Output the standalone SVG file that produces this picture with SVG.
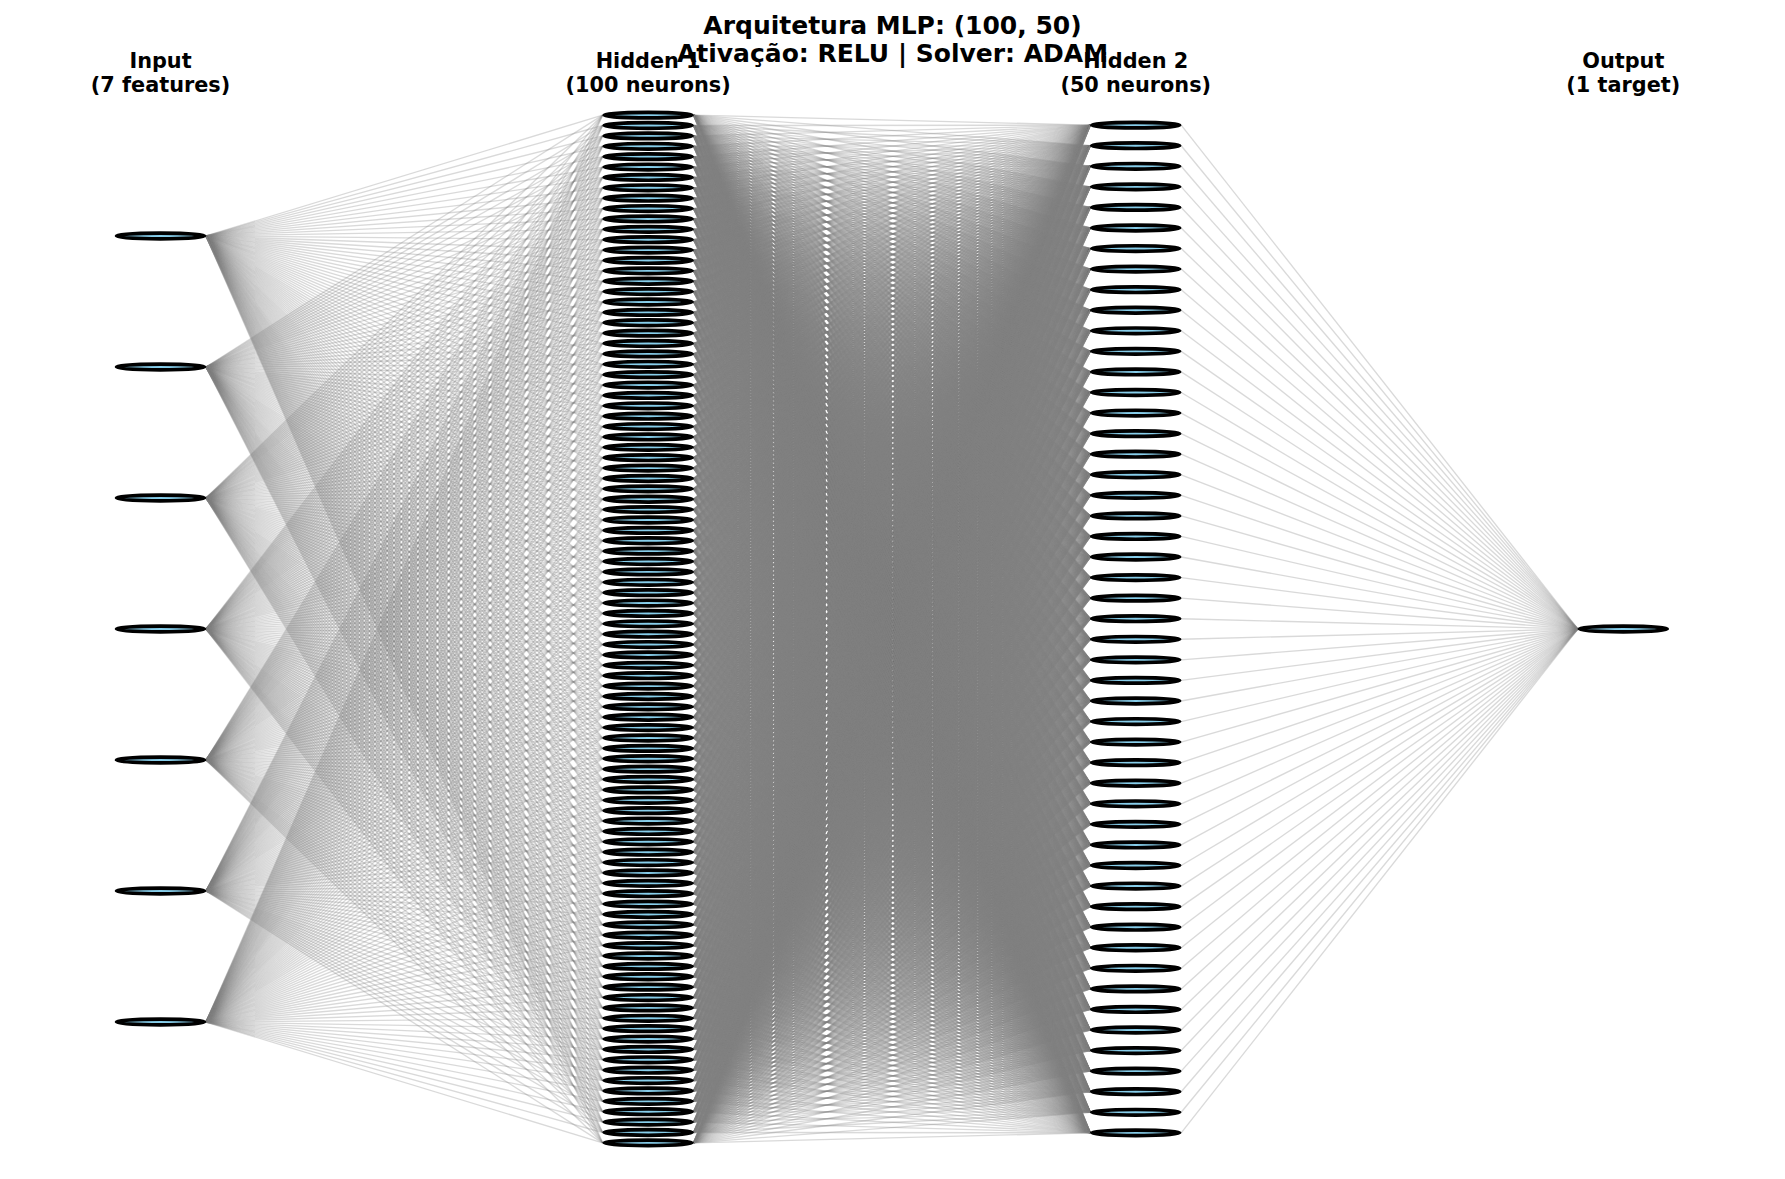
<svg xmlns="http://www.w3.org/2000/svg" xmlns:xlink="http://www.w3.org/1999/xlink" width="1785" height="1179" viewBox="0 0 1785 1179">
<style>
line{stroke:#808080;stroke-opacity:0.3;stroke-width:1.35;vector-effect:non-scaling-stroke}
.t{font-family:"DejaVu Sans","Liberation Sans",sans-serif;font-weight:bold;font-size:25px;text-anchor:middle;fill:#000}
.l{font-family:"DejaVu Sans","Liberation Sans",sans-serif;font-weight:bold;font-size:20.8px;text-anchor:middle;fill:#000}
</style>
<defs>
<ellipse id="n" rx="44" ry="2.8" fill="#87ceeb" stroke="#000" stroke-width="3.7"/>
<g id="f1">
<line x2="396.6" y2="-513.86"/><line x2="396.6" y2="-503.48"/><line x2="396.6" y2="-493.10"/><line x2="396.6" y2="-482.72"/><line x2="396.6" y2="-472.34"/><line x2="396.6" y2="-461.95"/><line x2="396.6" y2="-451.57"/><line x2="396.6" y2="-441.19"/><line x2="396.6" y2="-430.81"/><line x2="396.6" y2="-420.43"/>
<line x2="396.6" y2="-410.05"/><line x2="396.6" y2="-399.67"/><line x2="396.6" y2="-389.29"/><line x2="396.6" y2="-378.91"/><line x2="396.6" y2="-368.53"/><line x2="396.6" y2="-358.14"/><line x2="396.6" y2="-347.76"/><line x2="396.6" y2="-337.38"/><line x2="396.6" y2="-327.00"/><line x2="396.6" y2="-316.62"/>
<line x2="396.6" y2="-306.24"/><line x2="396.6" y2="-295.86"/><line x2="396.6" y2="-285.48"/><line x2="396.6" y2="-275.10"/><line x2="396.6" y2="-264.72"/><line x2="396.6" y2="-254.33"/><line x2="396.6" y2="-243.95"/><line x2="396.6" y2="-233.57"/><line x2="396.6" y2="-223.19"/><line x2="396.6" y2="-212.81"/>
<line x2="396.6" y2="-202.43"/><line x2="396.6" y2="-192.05"/><line x2="396.6" y2="-181.67"/><line x2="396.6" y2="-171.29"/><line x2="396.6" y2="-160.91"/><line x2="396.6" y2="-150.52"/><line x2="396.6" y2="-140.14"/><line x2="396.6" y2="-129.76"/><line x2="396.6" y2="-119.38"/><line x2="396.6" y2="-109.00"/>
<line x2="396.6" y2="-98.62"/><line x2="396.6" y2="-88.24"/><line x2="396.6" y2="-77.86"/><line x2="396.6" y2="-67.48"/><line x2="396.6" y2="-57.10"/><line x2="396.6" y2="-46.71"/><line x2="396.6" y2="-36.33"/><line x2="396.6" y2="-25.95"/><line x2="396.6" y2="-15.57"/><line x2="396.6" y2="-5.19"/>
<line x2="396.6" y2="5.19"/><line x2="396.6" y2="15.57"/><line x2="396.6" y2="25.95"/><line x2="396.6" y2="36.33"/><line x2="396.6" y2="46.71"/><line x2="396.6" y2="57.10"/><line x2="396.6" y2="67.48"/><line x2="396.6" y2="77.86"/><line x2="396.6" y2="88.24"/><line x2="396.6" y2="98.62"/>
<line x2="396.6" y2="109.00"/><line x2="396.6" y2="119.38"/><line x2="396.6" y2="129.76"/><line x2="396.6" y2="140.14"/><line x2="396.6" y2="150.52"/><line x2="396.6" y2="160.91"/><line x2="396.6" y2="171.29"/><line x2="396.6" y2="181.67"/><line x2="396.6" y2="192.05"/><line x2="396.6" y2="202.43"/>
<line x2="396.6" y2="212.81"/><line x2="396.6" y2="223.19"/><line x2="396.6" y2="233.57"/><line x2="396.6" y2="243.95"/><line x2="396.6" y2="254.33"/><line x2="396.6" y2="264.72"/><line x2="396.6" y2="275.10"/><line x2="396.6" y2="285.48"/><line x2="396.6" y2="295.86"/><line x2="396.6" y2="306.24"/>
<line x2="396.6" y2="316.62"/><line x2="396.6" y2="327.00"/><line x2="396.6" y2="337.38"/><line x2="396.6" y2="347.76"/><line x2="396.6" y2="358.14"/><line x2="396.6" y2="368.53"/><line x2="396.6" y2="378.91"/><line x2="396.6" y2="389.29"/><line x2="396.6" y2="399.67"/><line x2="396.6" y2="410.05"/>
<line x2="396.6" y2="420.43"/><line x2="396.6" y2="430.81"/><line x2="396.6" y2="441.19"/><line x2="396.6" y2="451.57"/><line x2="396.6" y2="461.95"/><line x2="396.6" y2="472.34"/><line x2="396.6" y2="482.72"/><line x2="396.6" y2="493.10"/><line x2="396.6" y2="503.48"/><line x2="396.6" y2="513.86"/>
</g>
<g id="f2">
<line x2="396.6" y2="-503.84"/><line x2="396.6" y2="-483.28"/><line x2="396.6" y2="-462.71"/><line x2="396.6" y2="-442.15"/><line x2="396.6" y2="-421.58"/><line x2="396.6" y2="-401.02"/><line x2="396.6" y2="-380.45"/><line x2="396.6" y2="-359.89"/><line x2="396.6" y2="-339.32"/><line x2="396.6" y2="-318.76"/>
<line x2="396.6" y2="-298.19"/><line x2="396.6" y2="-277.63"/><line x2="396.6" y2="-257.06"/><line x2="396.6" y2="-236.50"/><line x2="396.6" y2="-215.93"/><line x2="396.6" y2="-195.37"/><line x2="396.6" y2="-174.80"/><line x2="396.6" y2="-154.24"/><line x2="396.6" y2="-133.67"/><line x2="396.6" y2="-113.11"/>
<line x2="396.6" y2="-92.54"/><line x2="396.6" y2="-71.98"/><line x2="396.6" y2="-51.41"/><line x2="396.6" y2="-30.85"/><line x2="396.6" y2="-10.28"/>
<line x2="396.6" y2="10.28"/><line x2="396.6" y2="30.85"/><line x2="396.6" y2="51.41"/><line x2="396.6" y2="71.98"/><line x2="396.6" y2="92.54"/>
<line x2="396.6" y2="113.11"/><line x2="396.6" y2="133.67"/><line x2="396.6" y2="154.24"/><line x2="396.6" y2="174.80"/><line x2="396.6" y2="195.37"/><line x2="396.6" y2="215.93"/><line x2="396.6" y2="236.50"/><line x2="396.6" y2="257.06"/><line x2="396.6" y2="277.63"/><line x2="396.6" y2="298.19"/>
<line x2="396.6" y2="318.76"/><line x2="396.6" y2="339.32"/><line x2="396.6" y2="359.89"/><line x2="396.6" y2="380.45"/><line x2="396.6" y2="401.02"/><line x2="396.6" y2="421.58"/><line x2="396.6" y2="442.15"/><line x2="396.6" y2="462.71"/><line x2="396.6" y2="483.28"/><line x2="396.6" y2="503.84"/>
</g>
</defs>
<rect width="1785" height="1179" fill="#fff"/>
<g id="connectors">
<g id="conn-input-h1" transform="translate(206,629)">
<use href="#f1" transform="matrix(1,0.99092,0,1,0,-393)"/>
<use href="#f1" transform="matrix(1,0.66062,0,1,0,-262)"/>
<use href="#f1" transform="matrix(1,0.33031,0,1,0,-131)"/>
<use href="#f1"/>
<use href="#f1" transform="matrix(1,-0.33031,0,1,0,131)"/>
<use href="#f1" transform="matrix(1,-0.66062,0,1,0,262)"/>
<use href="#f1" transform="matrix(1,-0.99092,0,1,0,393)"/>
</g>
<g id="conn-h1-h2" transform="translate(1090.2,629)">
<use href="#f1" transform="matrix(-1,1.27041,0,1,0,-503.84)"/>
<use href="#f1" transform="matrix(-1,1.21855,0,1,0,-483.28)"/>
<use href="#f1" transform="matrix(-1,1.16670,0,1,0,-462.71)"/>
<use href="#f1" transform="matrix(-1,1.11485,0,1,0,-442.15)"/>
<use href="#f1" transform="matrix(-1,1.06299,0,1,0,-421.58)"/>
<use href="#f1" transform="matrix(-1,1.01114,0,1,0,-401.02)"/>
<use href="#f1" transform="matrix(-1,0.95929,0,1,0,-380.45)"/>
<use href="#f1" transform="matrix(-1,0.90743,0,1,0,-359.89)"/>
<use href="#f1" transform="matrix(-1,0.85558,0,1,0,-339.32)"/>
<use href="#f1" transform="matrix(-1,0.80373,0,1,0,-318.76)"/>
<use href="#f1" transform="matrix(-1,0.75187,0,1,0,-298.19)"/>
<use href="#f1" transform="matrix(-1,0.70002,0,1,0,-277.63)"/>
<use href="#f1" transform="matrix(-1,0.64817,0,1,0,-257.06)"/>
<use href="#f1" transform="matrix(-1,0.59631,0,1,0,-236.50)"/>
<use href="#f1" transform="matrix(-1,0.54446,0,1,0,-215.93)"/>
<use href="#f1" transform="matrix(-1,0.49261,0,1,0,-195.37)"/>
<use href="#f1" transform="matrix(-1,0.44075,0,1,0,-174.80)"/>
<use href="#f1" transform="matrix(-1,0.38890,0,1,0,-154.24)"/>
<use href="#f1" transform="matrix(-1,0.33705,0,1,0,-133.67)"/>
<use href="#f1" transform="matrix(-1,0.28519,0,1,0,-113.11)"/>
<use href="#f1" transform="matrix(-1,0.23334,0,1,0,-92.54)"/>
<use href="#f1" transform="matrix(-1,0.18149,0,1,0,-71.98)"/>
<use href="#f1" transform="matrix(-1,0.12963,0,1,0,-51.41)"/>
<use href="#f1" transform="matrix(-1,0.07778,0,1,0,-30.85)"/>
<use href="#f1" transform="matrix(-1,0.02593,0,1,0,-10.28)"/>
<use href="#f1" transform="matrix(-1,-0.02593,0,1,0,10.28)"/>
<use href="#f1" transform="matrix(-1,-0.07778,0,1,0,30.85)"/>
<use href="#f1" transform="matrix(-1,-0.12963,0,1,0,51.41)"/>
<use href="#f1" transform="matrix(-1,-0.18149,0,1,0,71.98)"/>
<use href="#f1" transform="matrix(-1,-0.23334,0,1,0,92.54)"/>
<use href="#f1" transform="matrix(-1,-0.28519,0,1,0,113.11)"/>
<use href="#f1" transform="matrix(-1,-0.33705,0,1,0,133.67)"/>
<use href="#f1" transform="matrix(-1,-0.38890,0,1,0,154.24)"/>
<use href="#f1" transform="matrix(-1,-0.44075,0,1,0,174.80)"/>
<use href="#f1" transform="matrix(-1,-0.49261,0,1,0,195.37)"/>
<use href="#f1" transform="matrix(-1,-0.54446,0,1,0,215.93)"/>
<use href="#f1" transform="matrix(-1,-0.59631,0,1,0,236.50)"/>
<use href="#f1" transform="matrix(-1,-0.64817,0,1,0,257.06)"/>
<use href="#f1" transform="matrix(-1,-0.70002,0,1,0,277.63)"/>
<use href="#f1" transform="matrix(-1,-0.75187,0,1,0,298.19)"/>
<use href="#f1" transform="matrix(-1,-0.80373,0,1,0,318.76)"/>
<use href="#f1" transform="matrix(-1,-0.85558,0,1,0,339.32)"/>
<use href="#f1" transform="matrix(-1,-0.90743,0,1,0,359.89)"/>
<use href="#f1" transform="matrix(-1,-0.95929,0,1,0,380.45)"/>
<use href="#f1" transform="matrix(-1,-1.01114,0,1,0,401.02)"/>
<use href="#f1" transform="matrix(-1,-1.06299,0,1,0,421.58)"/>
<use href="#f1" transform="matrix(-1,-1.11485,0,1,0,442.15)"/>
<use href="#f1" transform="matrix(-1,-1.16670,0,1,0,462.71)"/>
<use href="#f1" transform="matrix(-1,-1.21855,0,1,0,483.28)"/>
<use href="#f1" transform="matrix(-1,-1.27041,0,1,0,503.84)"/>
</g>
<g id="conn-h2-output">
<use href="#f2" transform="translate(1577.8,629) scale(-1,1)"/>
</g>
</g>
<g id="nodes">
<g id="layer-input" transform="translate(160.5,629)">
<g id="in-0"><use href="#n" y="-393"/></g>
<g id="in-1"><use href="#n" y="-262"/></g>
<g id="in-2"><use href="#n" y="-131"/></g>
<g id="in-3"><use href="#n" y="0"/></g>
<g id="in-4"><use href="#n" y="131"/></g>
<g id="in-5"><use href="#n" y="262"/></g>
<g id="in-6"><use href="#n" y="393"/></g>
</g>
<g id="layer-h1" transform="translate(648.1,629)">
<g id="h1-0"><use href="#n" y="-513.86"/></g><g id="h1-1"><use href="#n" y="-503.48"/></g><g id="h1-2"><use href="#n" y="-493.10"/></g><g id="h1-3"><use href="#n" y="-482.72"/></g><g id="h1-4"><use href="#n" y="-472.34"/></g>
<g id="h1-5"><use href="#n" y="-461.95"/></g><g id="h1-6"><use href="#n" y="-451.57"/></g><g id="h1-7"><use href="#n" y="-441.19"/></g><g id="h1-8"><use href="#n" y="-430.81"/></g><g id="h1-9"><use href="#n" y="-420.43"/></g>
<g id="h1-10"><use href="#n" y="-410.05"/></g><g id="h1-11"><use href="#n" y="-399.67"/></g><g id="h1-12"><use href="#n" y="-389.29"/></g><g id="h1-13"><use href="#n" y="-378.91"/></g><g id="h1-14"><use href="#n" y="-368.53"/></g>
<g id="h1-15"><use href="#n" y="-358.14"/></g><g id="h1-16"><use href="#n" y="-347.76"/></g><g id="h1-17"><use href="#n" y="-337.38"/></g><g id="h1-18"><use href="#n" y="-327.00"/></g><g id="h1-19"><use href="#n" y="-316.62"/></g>
<g id="h1-20"><use href="#n" y="-306.24"/></g><g id="h1-21"><use href="#n" y="-295.86"/></g><g id="h1-22"><use href="#n" y="-285.48"/></g><g id="h1-23"><use href="#n" y="-275.10"/></g><g id="h1-24"><use href="#n" y="-264.72"/></g>
<g id="h1-25"><use href="#n" y="-254.33"/></g><g id="h1-26"><use href="#n" y="-243.95"/></g><g id="h1-27"><use href="#n" y="-233.57"/></g><g id="h1-28"><use href="#n" y="-223.19"/></g><g id="h1-29"><use href="#n" y="-212.81"/></g>
<g id="h1-30"><use href="#n" y="-202.43"/></g><g id="h1-31"><use href="#n" y="-192.05"/></g><g id="h1-32"><use href="#n" y="-181.67"/></g><g id="h1-33"><use href="#n" y="-171.29"/></g><g id="h1-34"><use href="#n" y="-160.91"/></g>
<g id="h1-35"><use href="#n" y="-150.52"/></g><g id="h1-36"><use href="#n" y="-140.14"/></g><g id="h1-37"><use href="#n" y="-129.76"/></g><g id="h1-38"><use href="#n" y="-119.38"/></g><g id="h1-39"><use href="#n" y="-109.00"/></g>
<g id="h1-40"><use href="#n" y="-98.62"/></g><g id="h1-41"><use href="#n" y="-88.24"/></g><g id="h1-42"><use href="#n" y="-77.86"/></g><g id="h1-43"><use href="#n" y="-67.48"/></g><g id="h1-44"><use href="#n" y="-57.10"/></g>
<g id="h1-45"><use href="#n" y="-46.71"/></g><g id="h1-46"><use href="#n" y="-36.33"/></g><g id="h1-47"><use href="#n" y="-25.95"/></g><g id="h1-48"><use href="#n" y="-15.57"/></g><g id="h1-49"><use href="#n" y="-5.19"/></g>
<g id="h1-50"><use href="#n" y="5.19"/></g><g id="h1-51"><use href="#n" y="15.57"/></g><g id="h1-52"><use href="#n" y="25.95"/></g><g id="h1-53"><use href="#n" y="36.33"/></g><g id="h1-54"><use href="#n" y="46.71"/></g>
<g id="h1-55"><use href="#n" y="57.10"/></g><g id="h1-56"><use href="#n" y="67.48"/></g><g id="h1-57"><use href="#n" y="77.86"/></g><g id="h1-58"><use href="#n" y="88.24"/></g><g id="h1-59"><use href="#n" y="98.62"/></g>
<g id="h1-60"><use href="#n" y="109.00"/></g><g id="h1-61"><use href="#n" y="119.38"/></g><g id="h1-62"><use href="#n" y="129.76"/></g><g id="h1-63"><use href="#n" y="140.14"/></g><g id="h1-64"><use href="#n" y="150.52"/></g>
<g id="h1-65"><use href="#n" y="160.91"/></g><g id="h1-66"><use href="#n" y="171.29"/></g><g id="h1-67"><use href="#n" y="181.67"/></g><g id="h1-68"><use href="#n" y="192.05"/></g><g id="h1-69"><use href="#n" y="202.43"/></g>
<g id="h1-70"><use href="#n" y="212.81"/></g><g id="h1-71"><use href="#n" y="223.19"/></g><g id="h1-72"><use href="#n" y="233.57"/></g><g id="h1-73"><use href="#n" y="243.95"/></g><g id="h1-74"><use href="#n" y="254.33"/></g>
<g id="h1-75"><use href="#n" y="264.72"/></g><g id="h1-76"><use href="#n" y="275.10"/></g><g id="h1-77"><use href="#n" y="285.48"/></g><g id="h1-78"><use href="#n" y="295.86"/></g><g id="h1-79"><use href="#n" y="306.24"/></g>
<g id="h1-80"><use href="#n" y="316.62"/></g><g id="h1-81"><use href="#n" y="327.00"/></g><g id="h1-82"><use href="#n" y="337.38"/></g><g id="h1-83"><use href="#n" y="347.76"/></g><g id="h1-84"><use href="#n" y="358.14"/></g>
<g id="h1-85"><use href="#n" y="368.53"/></g><g id="h1-86"><use href="#n" y="378.91"/></g><g id="h1-87"><use href="#n" y="389.29"/></g><g id="h1-88"><use href="#n" y="399.67"/></g><g id="h1-89"><use href="#n" y="410.05"/></g>
<g id="h1-90"><use href="#n" y="420.43"/></g><g id="h1-91"><use href="#n" y="430.81"/></g><g id="h1-92"><use href="#n" y="441.19"/></g><g id="h1-93"><use href="#n" y="451.57"/></g><g id="h1-94"><use href="#n" y="461.95"/></g>
<g id="h1-95"><use href="#n" y="472.34"/></g><g id="h1-96"><use href="#n" y="482.72"/></g><g id="h1-97"><use href="#n" y="493.10"/></g><g id="h1-98"><use href="#n" y="503.48"/></g><g id="h1-99"><use href="#n" y="513.86"/></g>
</g>
<g id="layer-h2" transform="translate(1135.7,629)">
<g id="h2-0"><use href="#n" y="-503.84"/></g><g id="h2-1"><use href="#n" y="-483.28"/></g><g id="h2-2"><use href="#n" y="-462.71"/></g><g id="h2-3"><use href="#n" y="-442.15"/></g><g id="h2-4"><use href="#n" y="-421.58"/></g>
<g id="h2-5"><use href="#n" y="-401.02"/></g><g id="h2-6"><use href="#n" y="-380.45"/></g><g id="h2-7"><use href="#n" y="-359.89"/></g><g id="h2-8"><use href="#n" y="-339.32"/></g><g id="h2-9"><use href="#n" y="-318.76"/></g>
<g id="h2-10"><use href="#n" y="-298.19"/></g><g id="h2-11"><use href="#n" y="-277.63"/></g><g id="h2-12"><use href="#n" y="-257.06"/></g><g id="h2-13"><use href="#n" y="-236.50"/></g><g id="h2-14"><use href="#n" y="-215.93"/></g>
<g id="h2-15"><use href="#n" y="-195.37"/></g><g id="h2-16"><use href="#n" y="-174.80"/></g><g id="h2-17"><use href="#n" y="-154.24"/></g><g id="h2-18"><use href="#n" y="-133.67"/></g><g id="h2-19"><use href="#n" y="-113.11"/></g>
<g id="h2-20"><use href="#n" y="-92.54"/></g><g id="h2-21"><use href="#n" y="-71.98"/></g><g id="h2-22"><use href="#n" y="-51.41"/></g><g id="h2-23"><use href="#n" y="-30.85"/></g><g id="h2-24"><use href="#n" y="-10.28"/></g>
<g id="h2-25"><use href="#n" y="10.28"/></g><g id="h2-26"><use href="#n" y="30.85"/></g><g id="h2-27"><use href="#n" y="51.41"/></g><g id="h2-28"><use href="#n" y="71.98"/></g><g id="h2-29"><use href="#n" y="92.54"/></g>
<g id="h2-30"><use href="#n" y="113.11"/></g><g id="h2-31"><use href="#n" y="133.67"/></g><g id="h2-32"><use href="#n" y="154.24"/></g><g id="h2-33"><use href="#n" y="174.80"/></g><g id="h2-34"><use href="#n" y="195.37"/></g>
<g id="h2-35"><use href="#n" y="215.93"/></g><g id="h2-36"><use href="#n" y="236.50"/></g><g id="h2-37"><use href="#n" y="257.06"/></g><g id="h2-38"><use href="#n" y="277.63"/></g><g id="h2-39"><use href="#n" y="298.19"/></g>
<g id="h2-40"><use href="#n" y="318.76"/></g><g id="h2-41"><use href="#n" y="339.32"/></g><g id="h2-42"><use href="#n" y="359.89"/></g><g id="h2-43"><use href="#n" y="380.45"/></g><g id="h2-44"><use href="#n" y="401.02"/></g>
<g id="h2-45"><use href="#n" y="421.58"/></g><g id="h2-46"><use href="#n" y="442.15"/></g><g id="h2-47"><use href="#n" y="462.71"/></g><g id="h2-48"><use href="#n" y="483.28"/></g><g id="h2-49"><use href="#n" y="503.84"/></g>
</g>
<g id="layer-output" transform="translate(1623.3,629)">
<g id="out-0"><use href="#n" y="0"/></g>
</g>
</g>
<g id="labels">
<text class="l" x="160.5" y="67.8">Input</text>
<text class="l" x="160.5" y="91.5">(7 features)</text>
<text class="l" x="648.1" y="67.8">Hidden 1</text>
<text class="l" x="648.1" y="91.5">(100 neurons)</text>
<text class="l" x="1135.7" y="67.8">Hidden 2</text>
<text class="l" x="1135.7" y="91.5">(50 neurons)</text>
<text class="l" x="1623.3" y="67.8">Output</text>
<text class="l" x="1623.3" y="91.5">(1 target)</text>
</g>
<g id="title">
<text class="t" x="892.5" y="34">Arquitetura MLP: (100, 50)</text>
<text class="t" x="892.5" y="61.5">Ativação: RELU | Solver: ADAM</text>
</g>
</svg>
